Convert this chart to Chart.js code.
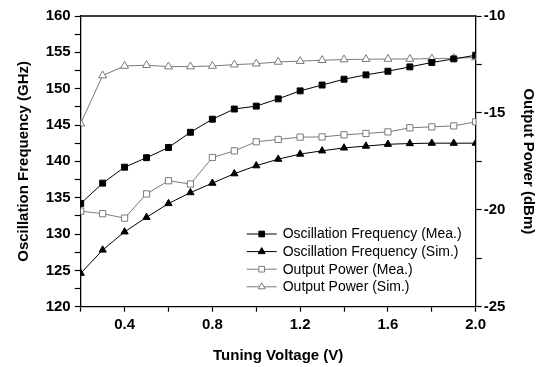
<!DOCTYPE html>
<html>
<head>
<meta charset="utf-8">
<script src="https://cdn.jsdelivr.net/npm/chart.js@4.4.1/dist/chart.umd.min.js"></script>
<style>
  html, body { margin: 0; padding: 0; background: #fff; }
  #wrap { width: 541px; height: 367px; }
</style>
</head>
<body>
<div id="wrap"><canvas id="tuningChart" width="541" height="367"></canvas></div>
<script>
var voltage = [0.2, 0.3, 0.4, 0.5, 0.6, 0.7, 0.8, 0.9, 1.0, 1.1, 1.2, 1.3, 1.4, 1.5, 1.6, 1.7, 1.8, 1.9, 2.0];
var freqMea = [134.2, 137.0, 139.2, 140.5, 141.9, 144.0, 145.8, 147.2, 147.6, 148.6, 149.7, 150.5, 151.3, 151.9, 152.4, 153.0, 153.6, 154.1, 154.6];
var freqSim = [124.6, 127.8, 130.3, 132.3, 134.2, 135.7, 137.0, 138.3, 139.4, 140.3, 141.0, 141.45, 141.85, 142.1, 142.35, 142.45, 142.5, 142.5, 142.5];
var powerMea = [-20.07, -20.2, -20.43, -19.18, -18.5, -18.67, -17.3, -16.96, -16.49, -16.37, -16.25, -16.24, -16.13, -16.06, -15.98, -15.77, -15.72, -15.67, -15.46];
var powerSim = [-15.55, -13.07, -12.58, -12.54, -12.61, -12.61, -12.58, -12.51, -12.46, -12.37, -12.33, -12.28, -12.25, -12.23, -12.22, -12.22, -12.2, -12.18, -12.14];
var seriesNames = ['Oscillation Frequency (Mea.)', 'Oscillation Frequency (Sim.)', 'Output Power (Mea.)', 'Output Power (Sim.)'];

var gray = '#7a7a7a';

function pts(ys) {
    return ys.map(function (y, i) { return {x: voltage[i], y: y}; });
}

function drawMarker(ctx, style, filled, color, x, y, r) {
    ctx.beginPath();
    if (style === 'rect') {
        var s = r / Math.SQRT2;
        ctx.rect(x - s, y - s, 2 * s, 2 * s);
    } else {
        ctx.moveTo(x, y - r);
        ctx.lineTo(x + r * Math.sin(Math.PI / 3), y + r / 2);
        ctx.lineTo(x - r * Math.sin(Math.PI / 3), y + r / 2);
        ctx.closePath();
    }
    ctx.fillStyle = filled ? color : '#fff';
    ctx.fill();
    ctx.lineWidth = 1;
    ctx.strokeStyle = color;
    ctx.stroke();
}

// legend with line + marker, placed inside the plot like the original
var insideLegend = {
    id: 'insideLegend',
    afterDatasetsDraw: function (chart) {
        var ctx = chart.ctx;
        var area = chart.chartArea;
        var x0 = area.left + 166;
        var y0 = area.top + 218;
        ctx.save();
        chart.data.datasets.forEach(function (ds, i) {
            var y = y0 + i * 17.6;
            var filled = ds.backgroundColor !== '#fff';
            ctx.beginPath();
            ctx.moveTo(x0, y);
            ctx.lineTo(x0 + 30, y);
            ctx.lineWidth = 1;
            ctx.strokeStyle = ds.borderColor;
            ctx.stroke();
            drawMarker(ctx, ds.pointStyle, filled, ds.pointBorderColor, x0 + 15, y, 4);
            ctx.fillStyle = '#000';
            ctx.font = '14px "Liberation Sans", Arial, sans-serif';
            ctx.textBaseline = 'middle';
            ctx.textAlign = 'left';
            ctx.fillText(ds.label, x0 + 36, y + 0.5);
        });
        ctx.restore();
    }
};

var topFrame = {
    id: 'topFrame',
    afterDraw: function (chart) {
        var ctx = chart.ctx;
        var a = chart.chartArea;
        ctx.save();
        ctx.beginPath();
        ctx.moveTo(a.left, a.top);
        ctx.lineTo(a.right, a.top);
        ctx.lineWidth = 1.3;
        ctx.strokeStyle = '#000';
        ctx.stroke();
        ctx.restore();
    }
};

var tickFont = {family: '"Liberation Sans", Arial, sans-serif', size: 15, weight: 'bold'};
var titleFont = {family: '"Liberation Sans", Arial, sans-serif', size: 15, weight: 'bold'};

function axisGrid() {
    return {drawOnChartArea: false, color: '#000', tickLength: 6, tickWidth: 1.2, tickColor: '#000'};
}

var ctx = document.getElementById('tuningChart').getContext('2d');
var myTuningChart = new Chart(ctx, {
    type: 'line',
    data: {
        datasets: [{
            label: seriesNames[0],
            data: pts(freqMea),
            yAxisID: 'y',
            borderColor: '#000',
            borderWidth: 1,
            pointStyle: 'rect',
            pointRadius: 4.2,
            backgroundColor: '#000',
            pointBackgroundColor: '#000',
            pointBorderColor: '#000'
        }, {
            label: seriesNames[1],
            data: pts(freqSim),
            yAxisID: 'y',
            borderColor: '#000',
            borderWidth: 1,
            pointStyle: 'triangle',
            pointRadius: 4.2,
            backgroundColor: '#000',
            pointBackgroundColor: '#000',
            pointBorderColor: '#000'
        }, {
            label: seriesNames[2],
            data: pts(powerMea),
            yAxisID: 'y1',
            borderColor: gray,
            borderWidth: 1,
            pointStyle: 'rect',
            pointRadius: 4.4,
            backgroundColor: '#fff',
            pointBackgroundColor: '#fff',
            pointBorderColor: gray
        }, {
            label: seriesNames[3],
            data: pts(powerSim),
            yAxisID: 'y1',
            borderColor: gray,
            borderWidth: 1,
            pointStyle: 'triangle',
            pointRadius: 4.6,
            backgroundColor: '#fff',
            pointBackgroundColor: '#fff',
            pointBorderColor: gray
        }]
    },
    options: {
        responsive: false,
        animation: false,
        layout: {padding: {top: 16, left: 0, right: 0, bottom: 0}},
        plugins: {legend: {display: false}, tooltip: {enabled: false}},
        elements: {line: {tension: 0}, point: {pointBorderWidth: 1}},
        scales: {
            x: {
                type: 'linear',
                min: 0.2,
                max: 2.0,
                grid: {drawOnChartArea: false, color: '#000', tickLength: 5, tickWidth: 1.2, tickColor: '#000'},
                border: {color: '#000', width: 1.3},
                ticks: {
                    stepSize: 0.2,
                    color: '#000',
                    font: tickFont,
                    padding: 4,
                    maxRotation: 0,
                    autoSkip: false,
                    callback: function (v) {
                        var t = Math.round(v * 10);
                        return (t % 4 === 0 && t > 2) ? v.toFixed(1) : '';
                    }
                },
                title: {display: true, text: 'Tuning Voltage (V)', color: '#000', font: titleFont, padding: {top: 0, bottom: 2}},
                afterFit: function (s) { s.height = 60.3; }
            },
            y: {
                position: 'left',
                min: 120,
                max: 160,
                grid: axisGrid(),
                border: {color: '#000', width: 1.3},
                ticks: {
                    stepSize: 2.5,
                    color: '#000',
                    font: tickFont,
                    padding: 4,
                    autoSkip: false,
                    callback: function (v) { return v % 5 === 0 ? v : ''; }
                },
                title: {display: true, text: 'Oscillation Frequency (GHz)', color: '#000', font: titleFont, padding: {top: 15, bottom: 0}},
                afterFit: function (s) { s.width = 80.7; }
            },
            y1: {
                position: 'right',
                min: -25,
                max: -10,
                grid: axisGrid(),
                border: {color: '#000', width: 1.3},
                ticks: {
                    stepSize: 2.5,
                    color: '#000',
                    font: tickFont,
                    padding: 2,
                    autoSkip: false,
                    callback: function (v) { return v % 5 === 0 ? v : ''; }
                },
                title: {display: true, text: 'Output Power (dBm)', color: '#000', font: titleFont, padding: {top: 4, bottom: 0}},
                afterFit: function (s) { s.width = 65.3; }
            }
        }
    },
    plugins: [insideLegend, topFrame]
});
</script>
</body>
</html>
